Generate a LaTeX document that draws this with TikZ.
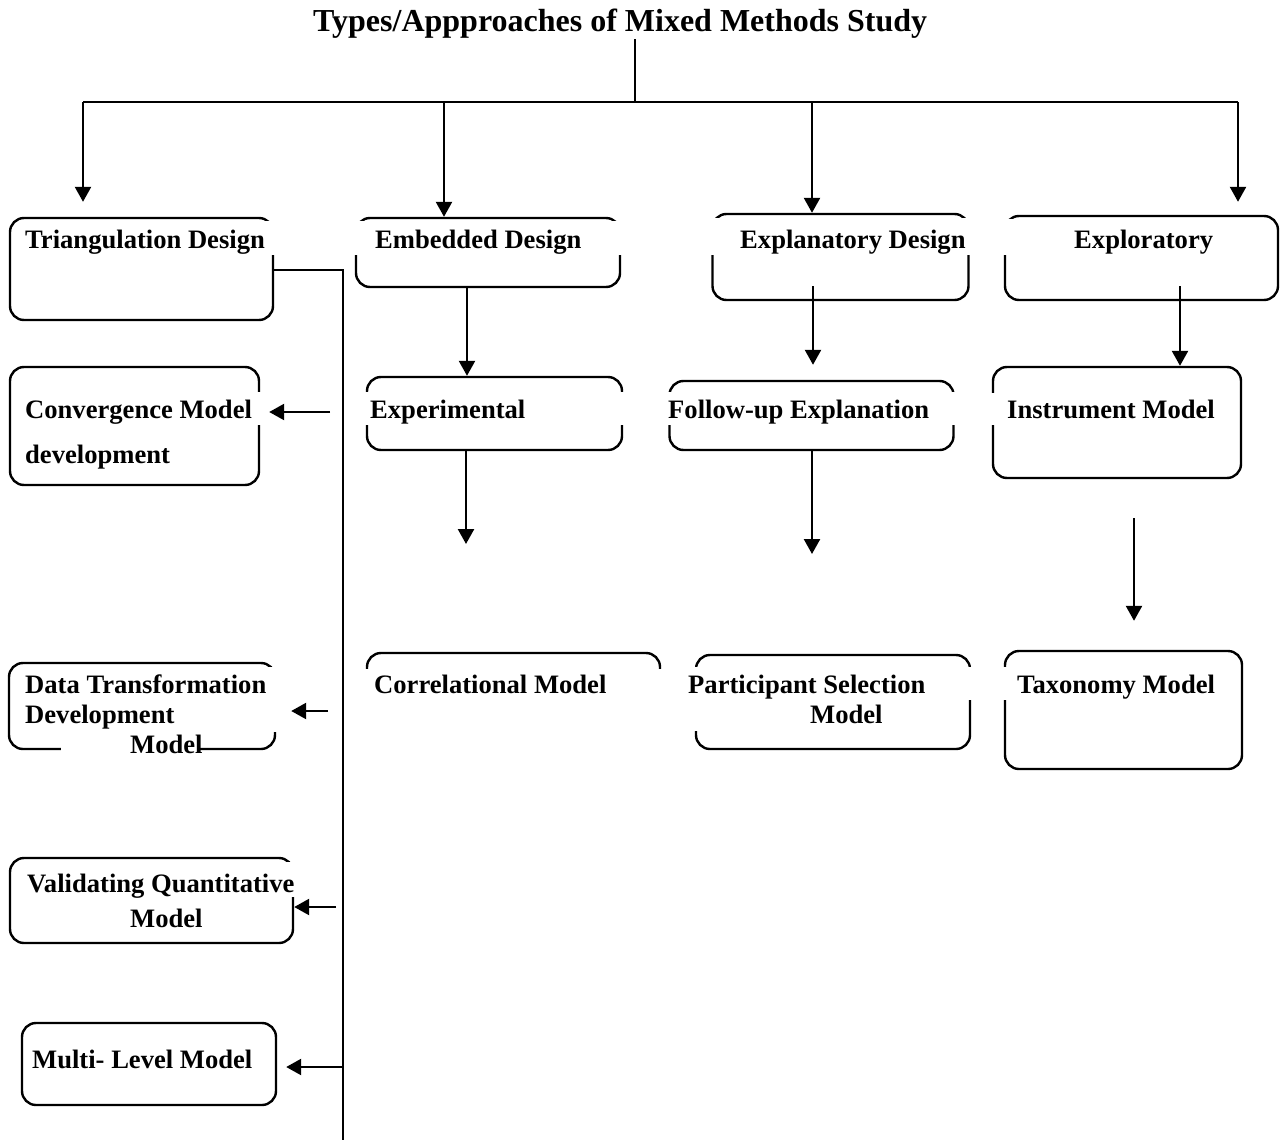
\documentclass[tikz,border=0pt]{standalone}
\usepackage{fontspec}
\setmainfont{Liberation Serif}
\usetikzlibrary{arrows.meta}

\tikzset{
  box/.style={draw, line width=2.4pt, rounded corners=14pt, inner sep=0pt},
  txt/.style={inner sep=0pt, anchor=base west, font=\fontsize{26.6}{32}\selectfont\bfseries},
  arr/.style={line width=2.4pt, -{Triangle[length=15pt,width=16pt]}},
  wire/.style={line width=2.4pt},
}

\begin{document}
\begin{tikzpicture}[x=1pt, y=-1pt]
  \useasboundingbox (0,0) rectangle (1280,1148);

  % title and bus
  \node[txt, font=\fontsize{32}{38}\selectfont\bfseries] (title) at (313,32) {Types/Appproaches of Mixed Methods Study};
  \coordinate (bus) at (635,102);
  \coordinate (busL) at (83,102);
  \coordinate (busR) at (1238,102);

  % boxes
  \node[box, minimum width=263pt, minimum height=102pt] (tri) at (141.5,269) {};
  \node[box, minimum width=264pt, minimum height=69pt] (emb) at (488,252.5) {};
  \node[box, minimum width=256pt, minimum height=86pt] (expl) at (840.5,257) {};
  \node[box, minimum width=273pt, minimum height=84pt] (explo) at (1141.5,258) {};
  \node[box, minimum width=249pt, minimum height=118pt] (conv) at (134.5,426) {};
  \node[box, minimum width=255pt, minimum height=73pt] (exper) at (494.5,413.5) {};
  \node[box, minimum width=284pt, minimum height=69pt] (follow) at (811.5,415.5) {};
  \node[box, minimum width=248pt, minimum height=111pt] (instr) at (1117,422.5) {};
  \node[box, minimum width=266pt, minimum height=86pt] (data) at (142,706) {};
  \node[box, minimum width=293pt, minimum height=92pt] (corr) at (513.5,699) {};
  \node[box, minimum width=274pt, minimum height=94pt] (part) at (833,702) {};
  \node[box, minimum width=237pt, minimum height=118pt] (tax) at (1123.5,710) {};
  \node[box, minimum width=283pt, minimum height=85pt] (valid) at (151.5,900.5) {};
  \node[box, minimum width=254pt, minimum height=82pt] (multi) at (149,1064) {};

  % white text frames laid over the boxes
  \fill[white] (22,221) rectangle (277,255);
  \fill[white] (351,221) rectangle (625,255);
  \fill[white] (707,218) rectangle (974,255);
  \fill[white] (1000,219) rectangle (1265,255);
  \fill[white] (18,392) rectangle (264,425);
  \fill[white] (361,392) rectangle (628,425);
  \fill[white] (663,392) rectangle (959,425);
  \fill[white] (987,393) rectangle (1225,425);
  \fill[white] (20,667) rectangle (280,732);
  \fill[white] (61,736) rectangle (200,758);
  \fill[white] (360,669) rectangle (667,760);
  \fill[white] (689,667) rectangle (976,700);
  \fill[white] (689,700) rectangle (900,731);
  \fill[white] (999,667) rectangle (1225,700);
  \fill[white] (20,862) rectangle (299,897);

  % labels
  \node[txt] (triT) at (25,248) {Triangulation Design};
  \node[txt] (embT) at (375,248) {Embedded Design};
  \node[txt] (explT) at (740,248) {Explanatory Design};
  \node[txt] (exploT) at (1074,248) {Exploratory};
  \node[txt] (convT) at (25,418) {Convergence Model};
  \node[txt] (convT2) at (25,463) {development};
  \node[txt] (experT) at (370,418) {Experimental};
  \node[txt] (followT) at (668,418) {Follow-up Explanation};
  \node[txt] (instrT) at (1007,418) {Instrument Model};
  \node[txt] (dataT) at (25,693) {Data Transformation};
  \node[txt] (dataT2) at (25,723) {Development};
  \node[txt] (dataT3) at (130,753) {Model};
  \node[txt] (corrT) at (374,693) {Correlational Model};
  \node[txt] (partT) at (688,693) {Participant Selection};
  \node[txt] (partT2) at (810,723) {Model};
  \node[txt] (taxT) at (1017,693) {Taxonomy Model};
  \node[txt] (validT) at (27,892) {Validating Quantitative};
  \node[txt] (validT2) at (130,927) {Model};
  \node[txt] (multiT) at (32,1068) {Multi- Level Model};

  % top branches
  \draw[wire] (title.south -| bus) -- (bus);
  \draw[wire] (busL) -- (busR);
  \draw[arr, shorten >=15pt] (busL) -- (busL |- tri.north);
  \draw[arr] (bus -| 444,0) -- (emb.north -| 444,0);
  \draw[arr] (bus -| 812,0) -- (expl.north -| 812,0);
  \draw[arr, shorten >=13pt] (busR) -- (busR |- explo.north);

  % columns
  \coordinate (experEnd) at (466,544);
  \coordinate (followEnd) at (812,554);
  \draw[arr] (emb.south -| 467,0) -- (exper.north -| 467,0);
  \draw[arr] (exper.south -| experEnd) -- (experEnd);
  \draw[arr, shorten <=-15pt, shorten >=15pt] (expl.south -| 813,0) -- (follow.north -| 813,0);
  \draw[arr] (follow.south -| followEnd) -- (followEnd);
  \draw[arr, shorten <=-15pt] (explo.south -| 1180,0) -- (instr.north -| 1180,0);
  \draw[arr, shorten <=39pt, shorten >=29pt] (instr.south -| 1134,0) -- (tax.north -| 1134,0);

  % triangulation spine
  \coordinate (spine) at (343,270);
  \coordinate (spineEnd) at (343,1140);
  \draw[wire] (tri.east |- spine) -- (spine) -- (spineEnd);
  \draw[arr, shorten >=9pt] ([xshift=-13pt]spine |- 0,412) -- (conv.east |- 0,412);
  \draw[arr, shorten >=15pt] ([xshift=-15pt]spine |- 0,711) -- (data.east |- 0,711);
  \draw[arr] ([xshift=-7pt]spine |- 0,907) -- (valid.east |- 0,907);
  \draw[arr, shorten >=9pt] (spine |- 0,1067) -- (multi.east |- 0,1067);
\end{tikzpicture}
\end{document}
